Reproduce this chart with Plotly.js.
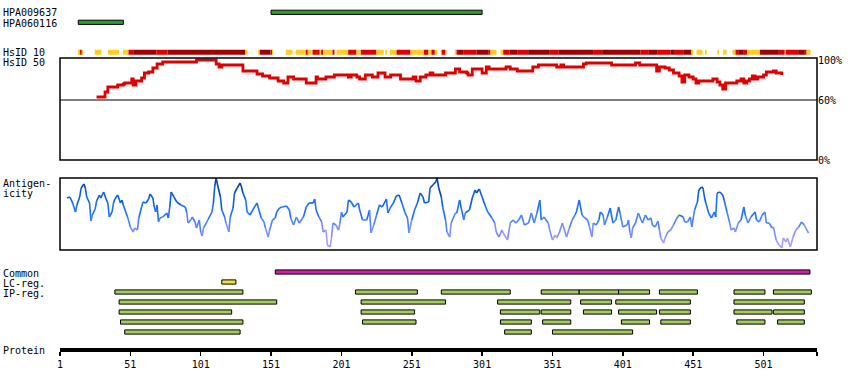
<!DOCTYPE html>
<html><head><meta charset="utf-8">
<script src="https://cdn.plot.ly/plotly-3.0.1.min.js"></script>
<style>html,body{margin:0;padding:0;background:#fff}#chart{width:850px;height:390px}</style>
</head><body><div id="chart"></div>
<script>
// ---------- DATA ----------
const proteinLength = 539;
const tickResidues = [1,51,101,151,201,251,301,351,401,451,501];

// Antibody tracks (top)
const hpaNames = ['HPA009637','HPA060116'];
const hpaStart = [151, 14];
const hpaEnd   = [301, 46];
const hpaRow   = [0, 1];

// HsID 10 strip: segments (start, end, level 1=yellow 2=red 3=dark red)
const s10Start = [13.7,15.1,16.5,25.7,35.2,45.8,49.7,53.0,69.6,77.4,
  132.8,141.8,143.0,150.6,151.7,161.5,168.6,175.7,177.1,180.5,
  185.6,186.6,188.0,194.7,197.5,205.8,211.7,214.8,225.9,232.1,
  235.4,240.2,250.1,259.6,262.9,265.0,267.4,271.6,272.3,275.0,
  281.6,282.8,283.9,287.5,297.0,305.3,307.0,314.1,316.0,320.7,
  325.9,333.7,348.6,355.5,380.4,386.3,413.6,419.5,425.4,434.9,
  438.0,443.9,449.8,453.4,459.3,468.3,472.3,479.0,481.1,483.5,
  487.0,489.3,498.4,511.9,516.1,516.8,525.6,530.4,531.6];
const s10End = [15.1,16.5,17.4,30.5,43.0,49.7,53.0,69.6,77.4,132.8,
  134.3,143.0,150.6,151.7,152.5,166.2,175.7,177.1,180.5,185.6,
  186.6,188.0,194.7,196.1,205.8,211.7,214.8,225.9,231.1,233.5,
  240.2,250.1,259.6,262.9,265.0,267.4,269.3,272.3,275.0,275.7,
  282.8,283.9,287.5,297.0,305.3,307.0,311.2,316.0,320.7,325.9,
  333.7,348.6,355.5,380.4,386.3,413.6,419.5,425.4,434.9,438.0,
  443.9,449.8,451.0,457.6,460.5,469.4,474.7,481.1,483.5,487.0,
  489.3,498.4,511.9,516.1,516.8,525.6,530.4,531.6,534.4];
const s10Level = [1,2,1,1,1,1,2,3,2,3,
  1,1,3,2,1,1,1,2,1,2,
  1,2,1,2,1,2,1,2,1,1,
  1,2,1,2,1,2,1,1,2,1,
  1,2,3,2,3,2,1,1,2,3,
  2,3,2,3,2,3,2,3,2,3,
  2,3,1,1,1,1,1,1,2,3,
  2,1,3,2,1,2,3,2,1];

// HsID 50 identity (%)
const hsidRes = [27,30,33,35,41,42,46,47,49,52,
  53,55,59,61,64,67,70,74,97,98,
  111,112,114,116,128,131,138,141,145,150,
  156,160,163,167,175,176,180,183,184,188,
  190,196,205,206,208,212,214,218,221,223,
  227,232,234,236,240,243,251,252,254,257,
  261,264,266,273,275,279,282,285,290,291,
  294,300,301,304,306,316,318,321,324,326,
  334,337,341,353,354,357,359,370,373,375,
  392,393,408,410,413,423,425,427,430,431,
  434,437,441,443,445,448,451,453,455,463,
  465,468,470,472,474,481,482,485,487,489,
  491,493,495,497,501,503,508,510,514];
const hsidVal = [63,63,68,73,73,75,76,77,77,81,
  75,79,82,87,88,92,96,98,98,100,
  100,96,93,95,95,89,89,86,84,82,
  79,77,83,81,81,77,77,83,81,81,
  83,85,85,83,85,83,81,85,85,83,
  87,83,83,85,85,81,81,83,79,83,
  85,87,85,85,87,87,91,88,87,85,
  91,91,87,93,91,91,93,91,91,89,
  89,93,95,95,93,95,93,93,96,97,
  97,95,95,97,95,95,89,93,93,92,
  90,87,84,78,85,83,81,77,79,79,
  81,78,75,71,77,77,79,81,77,79,
  81,84,81,83,85,88,89,87,85];

// Antigenicity score
const agRes = [6,8,9,10,12,13,15,16,18,19,
  20,22,23,24,26,27,29,30,32,34,
  35,36,38,39,40,42,44,45,46,49,
  51,53,54,56,57,59,60,62,64,65,
  67,68,69,70,71,72,74,77,78,79,
  80,82,84,87,90,91,92,94,95,97,
  98,100,101,102,103,105,106,109,110,111,
  112,113,115,116,118,119,121,122,124,125,
  127,129,130,131,133,134,136,138,141,142,
  144,146,147,149,150,152,154,155,157,159,
  162,164,165,167,169,171,174,176,178,181,
  182,183,185,187,188,190,191,193,194,195,
  197,199,200,201,202,205,206,208,210,213,
  214,216,219,221,222,224,226,228,230,233,
  234,236,238,240,242,244,246,248,249,251,
  253,255,257,259,260,263,264,266,268,269,
  270,272,273,275,276,278,279,282,283,285,
  286,288,289,292,294,296,297,299,301,303,
  305,308,310,311,313,315,316,319,321,323,
  325,327,329,331,334,336,338,340,342,343,
  345,348,349,351,353,354,356,358,361,363,
  365,367,368,370,372,374,376,377,379,380,
  382,384,385,387,388,390,392,394,396,398,
  399,401,404,405,406,407,408,410,412,414,
  415,417,419,421,422,424,426,427,428,430,
  431,433,435,437,439,441,444,445,447,449,
  450,452,454,455,457,458,459,460,462,464,
  466,467,468,470,472,473,475,477,478,480,
  481,483,485,487,488,490,492,495,496,498,
  500,502,503,505,507,508,510,512,514,515,
  517,518,520,522,524,526,528,530,531,533];
const agVal = [52,53,50,47,38,45,53,62,66,62,
  53,47,29,35,41,49,55,52,58,50,
  47,33,38,47,51,55,47,50,45,33,
  23,18,22,20,32,43,48,47,51,56,
  52,43,38,45,28,32,33,37,32,43,
  58,53,48,45,43,38,27,30,33,28,
  22,30,18,14,22,27,30,38,47,64,
  72,65,53,40,33,27,18,33,42,57,
  62,67,63,57,50,38,35,40,47,42,
  32,28,22,13,20,30,32,38,42,43,
  44,40,32,25,33,27,33,43,47,47,
  51,40,33,28,18,20,5,3,13,27,
  25,20,27,38,33,38,50,48,43,47,
  40,30,30,40,17,25,35,45,43,51,
  37,43,47,54,55,47,38,32,17,30,
  40,47,57,53,47,48,62,65,68,72,
  63,53,43,30,18,13,27,37,37,50,
  43,30,37,40,52,60,57,61,53,45,
  38,32,27,18,13,20,17,10,27,30,
  27,30,35,25,27,37,27,37,50,30,
  33,27,20,10,15,12,18,27,13,22,
  30,35,38,50,35,32,30,25,13,27,
  25,30,38,35,25,33,42,27,30,43,
  37,23,25,30,18,12,22,27,37,30,
  27,35,30,32,25,23,29,20,12,7,
  12,18,20,25,31,35,33,28,28,33,
  23,40,48,60,63,62,53,47,37,32,
  38,33,57,58,55,50,38,27,20,22,
  18,27,30,43,35,27,33,38,30,28,
  35,38,27,27,22,23,10,5,2,12,
  8,12,3,13,20,23,28,25,22,17];

// Feature tracks (bottom): row 0 Common, row 1 LC-reg., rows 2-6 IP-reg.
const commonStart = [154], commonEnd = [534], commonRow = [0];
const lcStart = [116], lcEnd = [126], lcRow = [1];
const ipStart = [40,211,272,343,370,398,427,480,508,
  43,215,312,371,396,480,
  43,215,314,343,373,398,427,480,508,
  44,216,314,344,400,428,482,511,
  47,317,351];
const ipEnd = [131,255,321,370,398,420,454,502,535,
  155,275,364,393,449,530,
  123,253,342,364,393,425,449,507,530,
  131,254,336,364,420,449,502,530,
  129,336,408];
const ipRow = [2,2,2,2,2,2,2,2,2,
  3,3,3,3,3,3,
  4,4,4,4,4,4,4,4,4,
  5,5,5,5,5,5,5,5,
  6,6,6];

// ---------- STYLE ----------
const FONT = 'DejaVu Sans Mono, monospace';
const H = 390, W = 850, ML = 60, MR = 33;
const pf = px => 1 - px / H;
const lx = px => (px - ML) / (W - ML - MR);

function barTrace(starts, ends, rows, color, yaxis, width, lw) {
  return {
    type: 'bar', orientation: 'h', yaxis: yaxis, xaxis: 'x',
    base: starts, x: ends.map((e, i) => e - starts[i]), y: rows,
    width: width,
    marker: { color: color, line: { color: '#000', width: lw } },
    hoverinfo: 'skip'
  };
}

const traces = [];
traces.push(barTrace(hpaStart, hpaEnd, hpaRow, '#2e9b2e', 'y3', 0.42, 1));
const levelColor = {1: '#ffcc22', 2: '#e00000', 3: '#a00000'};
traces.push(barTrace(s10Start, s10End, s10Start.map(() => 4),
  s10Level.map(l => levelColor[l]), 'y3', 0.5, 0));

traces.push({
  type: 'scatter', mode: 'lines', x: hsidRes, y: hsidVal, yaxis: 'y', xaxis: 'x',
  line: { color: '#e00000', width: 2.8, shape: 'hv' }, hoverinfo: 'skip', cliponaxis: false
});

// antigenicity, coloured by score
const agBins = [
  { min: 58, color: '#0046b4' }, { min: 46, color: '#0a5ee6' },
  { min: 34, color: '#1f6fff' }, { min: 24, color: '#4c82ff' },
  { min: 14, color: '#7a8eff' }, { min: -1, color: '#a39eff' }];
const agTr = agBins.map(b => ({ type: 'scatter', mode: 'lines', x: [], y: [], yaxis: 'y2', xaxis: 'x',
  line: { color: b.color, width: 1.6 }, hoverinfo: 'skip', connectgaps: false }));
for (let i = 0; i < agRes.length - 1; i++) {
  const m = (agVal[i] + agVal[i + 1]) / 2;
  const k = agBins.findIndex(b => m >= b.min);
  agTr[k].x.push(agRes[i], agRes[i + 1], null);
  agTr[k].y.push(agVal[i], agVal[i + 1], null);
}
agTr.forEach(t => traces.push(t));

traces.push(barTrace(commonStart, commonEnd, commonRow, '#cc22aa', 'y4', 0.42, 1));
traces.push(barTrace(lcStart, lcEnd, lcRow, '#f0e040', 'y4', 0.42, 1));
traces.push(barTrace(ipStart, ipEnd, ipRow, '#a2cc5c', 'y4', 0.42, 1));

// labels
const labels = [
  ['HPA009637', 12.7], ['HPA060116', 23], ['HsID 10', 52.3], ['HsID 50', 62.3],
  ['Antigen-', 183], ['icity', 193], ['Common', 273], ['LC-reg.', 283],
  ['IP-reg.', 293], ['Protein', 350]];
const annotations = labels.map(([t, py]) => ({
  text: t, xref: 'paper', yref: 'paper', x: lx(2.5), y: pf(py),
  xanchor: 'left', yanchor: 'middle', showarrow: false, borderpad: 0,
  font: { family: FONT, size: 10, color: '#000' }
}));

const layout = {
  width: W, height: H, margin: { l: ML, r: MR, t: 0, b: 0 },
  paper_bgcolor: '#fff', plot_bgcolor: 'rgba(0,0,0,0)',
  showlegend: false, barmode: 'overlay',
  font: { family: FONT, size: 10, color: '#000' },
  xaxis: {
    range: [1, proteinLength], anchor: 'free', position: pf(350),
    showline: true, linewidth: 4, linecolor: '#000',
    ticks: 'outside', ticklen: 4, tickwidth: 1.5, tickcolor: '#000',
    tickvals: tickResidues.concat([proteinLength]),
    ticktext: tickResidues.map(String).concat(['']),
    showgrid: false, zeroline: false, tickfont: { family: FONT, size: 10 }
  },
  yaxis: {
    domain: [pf(160), pf(58)], range: [0, 102], side: 'right', anchor: 'x',
    tickvals: [0, 60, 100], ticktext: ['0%', '60%', '100%'], ticks: '',
    showgrid: false, zeroline: false, showline: false,
    tickfont: { family: FONT, size: 10 }
  },
  yaxis2: { domain: [pf(250), pf(178)], range: [0, 72], visible: false, anchor: 'x' },
  yaxis3: { domain: [pf(57.3), pf(7.3)], range: [4.5, -0.5], visible: false, anchor: 'x' },
  yaxis4: { domain: [pf(337), pf(267)], range: [6.5, -0.5], visible: false, anchor: 'x' },
  shapes: [
    { type: 'rect', xref: 'x domain', yref: 'y domain', x0: 0, x1: 1, y0: 0, y1: 1, line: { color: '#000', width: 1.5 } },
    { type: 'line', xref: 'x domain', yref: 'y', x0: 0, x1: 1, y0: 60, y1: 60, line: { color: '#000', width: 1 } },
    { type: 'rect', xref: 'x domain', yref: 'y2 domain', x0: 0, x1: 1, y0: 0, y1: 1, line: { color: '#000', width: 1.5 } }
  ],
  annotations: annotations
};

Plotly.newPlot('chart', traces, layout, { staticPlot: true, displayModeBar: false });
</script></body></html>
